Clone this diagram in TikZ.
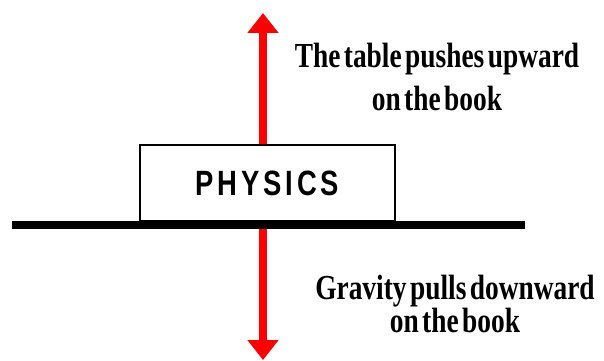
\documentclass[tikz,border=0pt]{standalone}
\usepackage{fontspec}
\setmainfont{Liberation Serif}
\newfontfamily\labelfont{Liberation Serif}[FakeStretch=0.78,WordSpace=0.5]
\newfontfamily\bookfont{Liberation Sans}[FakeStretch=0.78,LetterSpace=11]
\usetikzlibrary{arrows.meta}

\begin{document}
\begin{tikzpicture}[x=0.02cm,y=0.02cm,
  force/.style={red,line width=0.16cm,-{Triangle[length=0.4cm,width=0.6cm]}},
  tabletop/.style={line width=0.16cm},
  book/.style={draw,line width=1.4pt,minimum width=5.1cm,minimum height=1.52cm,inner sep=0pt,
    font=\bookfont\bfseries\fontsize{20}{22}\selectfont},
  lbl/.style={align=center,inner sep=0pt,font=\labelfont\bfseries\fontsize{20}{24}\selectfont},
  lbltight/.style={lbl,font=\labelfont\bfseries\fontsize{20}{19}\selectfont}]
\useasboundingbox (0,0) rectangle (604,361);
\coordinate (tl) at (12,136); \coordinate (tr) at (525,136);
\coordinate (up) at (263,348); \coordinate (down) at (263,1);
\node[book] (book) at (267.5,178) {PHYSICS};
\draw[force] (book.north -| up) -- (up);
\draw[force] (tl -| down) -- (down);
\draw[tabletop] (tl) -- (tr);
\node[lbl] (push) at (437,284) {The table pushes upward\\on the book};
\node[lbltight] (pull) at (455,57) {Gravity pulls downward\\on the book};
\end{tikzpicture}
\end{document}
